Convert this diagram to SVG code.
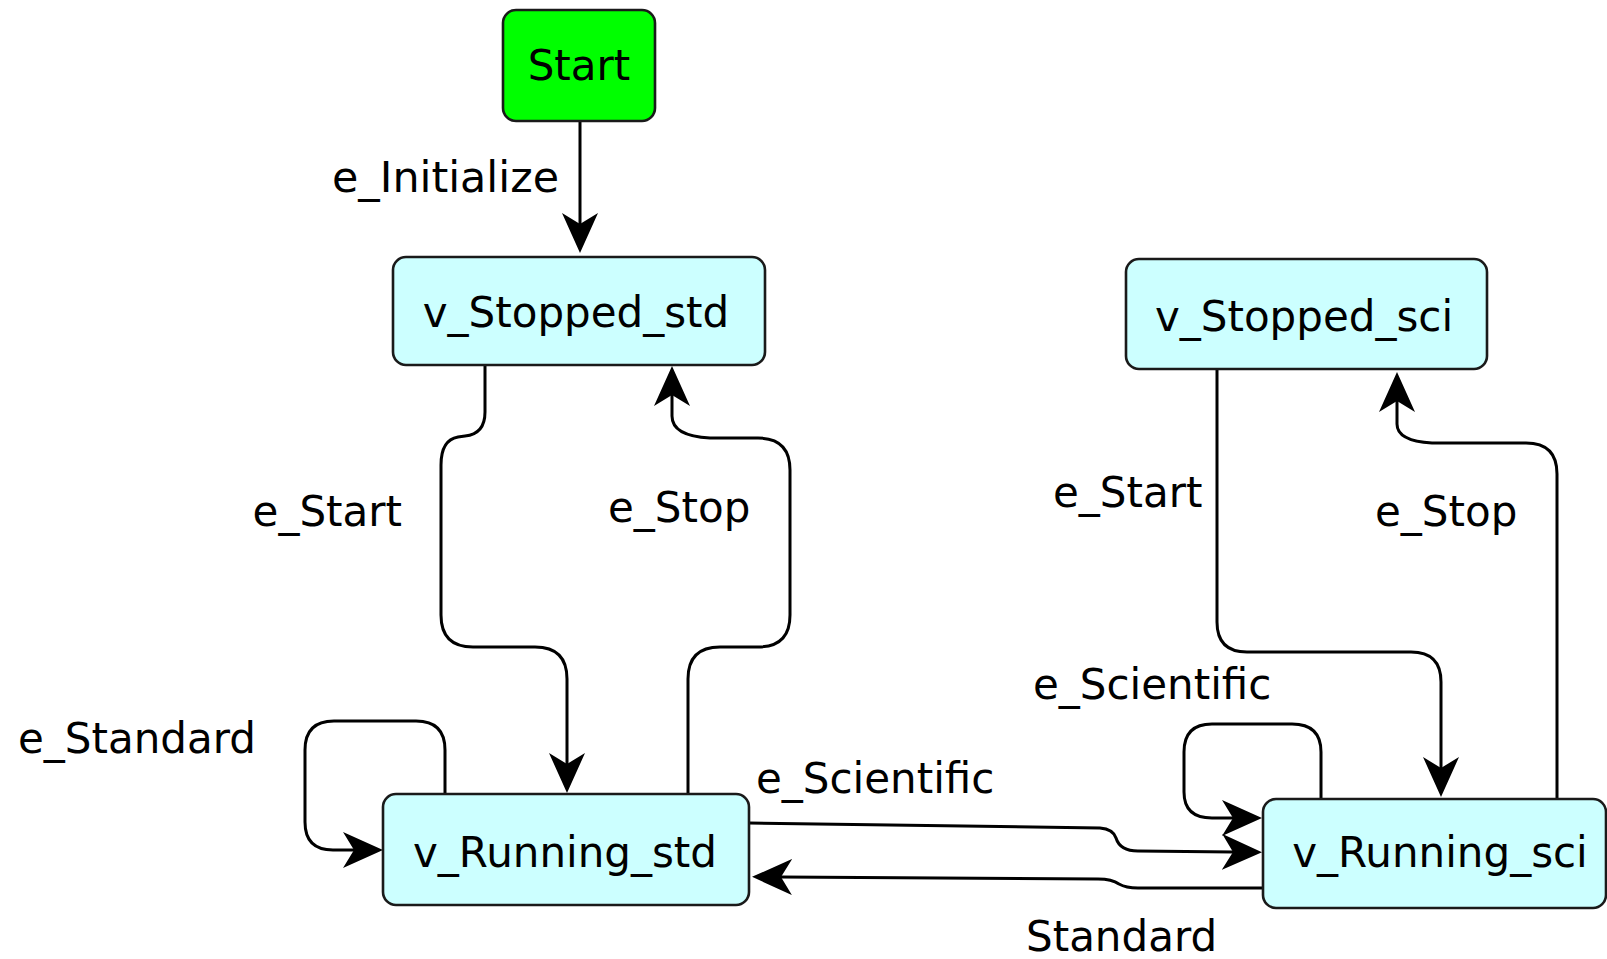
<svg xmlns="http://www.w3.org/2000/svg" width="1607" height="959" viewBox="0 0 1607 959">
  <style>
    .node rect { stroke: #1a1a1a; stroke-width: 2.6; }
    .state rect { fill: #ccffff; }
    .initial rect { fill: #00ff00; }
    text { font-family: "DejaVu Sans", "Liberation Sans", sans-serif; font-size: 42px; fill: #000; }
    .name { text-anchor: middle; }
    .edge { fill: none; stroke: #000; stroke-width: 3; marker-end: url(#arrow); }
  </style>
  <defs>
    <!-- solid arrowhead with a shallow notch; refX sits on the notch -->
    <marker id="arrow" viewBox="0 -18 40 36" refX="11" refY="0" markerWidth="40" markerHeight="36" markerUnits="userSpaceOnUse" orient="auto">
      <path d="M0,-18 L40,0 L0,18 L11,0 Z" fill="#000"/>
    </marker>
  </defs>
  <rect width="1607" height="959" fill="#fff"/>

  <g id="connectors">
    <!-- Start -> v_Stopped_std -->
    <path class="edge" d="M580,121 L580,224"/>
    <!-- v_Stopped_std -> v_Running_std -->
    <path class="edge" d="M485,366 L485,412 Q485,434 465,436 L458,437 Q441,440 441,465 L441,615 Q441,647 473,647 L535,647 Q567,647 567,679 L567,764"/>
    <!-- v_Running_std -> v_Stopped_std -->
    <path class="edge" d="M688,794 L688,679 Q688,647 720,647 L758,647 Q790,647 790,615 L790,470 Q790,438 758,438 L710,438 Q672,436 672,416 L672,395"/>
    <!-- v_Running_std self loop -->
    <path class="edge" d="M445,794 L445,750 Q445,721 416,721 L334,721 Q305,721 305,750 L305,822 Q305,850 333,850 L354,850"/>
    <!-- v_Running_std -> v_Running_sci -->
    <path class="edge" d="M749,823 L1100,828 Q1113,829 1116,838 Q1120,851 1138,851 L1233,852"/>
    <!-- v_Running_sci -> v_Running_std -->
    <path class="edge" d="M1263,888 L1138,888 Q1126,888 1119,884 Q1112,879 1098,879 L781,877"/>
    <!-- v_Running_sci self loop -->
    <path class="edge" d="M1321,799 L1321,752 Q1321,724 1292,724 L1212,724 Q1184,724 1184,752 L1184,792 Q1184,818 1212,818 L1233,818"/>
    <!-- v_Stopped_sci -> v_Running_sci -->
    <path class="edge" d="M1217,369 L1217,622 Q1217,652 1247,652 L1411,652 Q1441,652 1441,682 L1441,768"/>
    <!-- v_Running_sci -> v_Stopped_sci -->
    <path class="edge" d="M1557,799 L1557,474 Q1557,443 1526,443 L1432,443 Q1397,441 1397,424 L1397,401"/>

    <text x="332" y="192" textLength="227" lengthAdjust="spacingAndGlyphs">e_Initialize</text>
    <text x="402" y="526" text-anchor="end">e_Start</text>
    <text x="608" y="522">e_Stop</text>
    <text x="18" y="753">e_Standard</text>
    <text x="756" y="793">e_Scientific</text>
    <text x="1026" y="951">Standard</text>
    <text x="1033" y="699">e_Scientific</text>
    <text x="1053" y="507">e_Start</text>
    <text x="1375" y="526">e_Stop</text>
  </g>

  <g id="Start" class="node initial">
    <rect x="503" y="10" width="152" height="111" rx="13"/>
    <text class="name" x="579" y="80">Start</text>
  </g>
  <g id="v_Stopped_std" class="node state">
    <rect x="393" y="257" width="372" height="108" rx="13"/>
    <text class="name" x="576" y="327">v_Stopped_std</text>
  </g>
  <g id="v_Stopped_sci" class="node state">
    <rect x="1126" y="259" width="361" height="110" rx="13"/>
    <text class="name" x="1304" y="331">v_Stopped_sci</text>
  </g>
  <g id="v_Running_std" class="node state">
    <rect x="383" y="794" width="366" height="111" rx="13"/>
    <text class="name" x="565" y="867">v_Running_std</text>
  </g>
  <g id="v_Running_sci" class="node state">
    <rect x="1263" y="799" width="343" height="109" rx="13"/>
    <text class="name" x="1440" y="867">v_Running_sci</text>
  </g>
</svg>
